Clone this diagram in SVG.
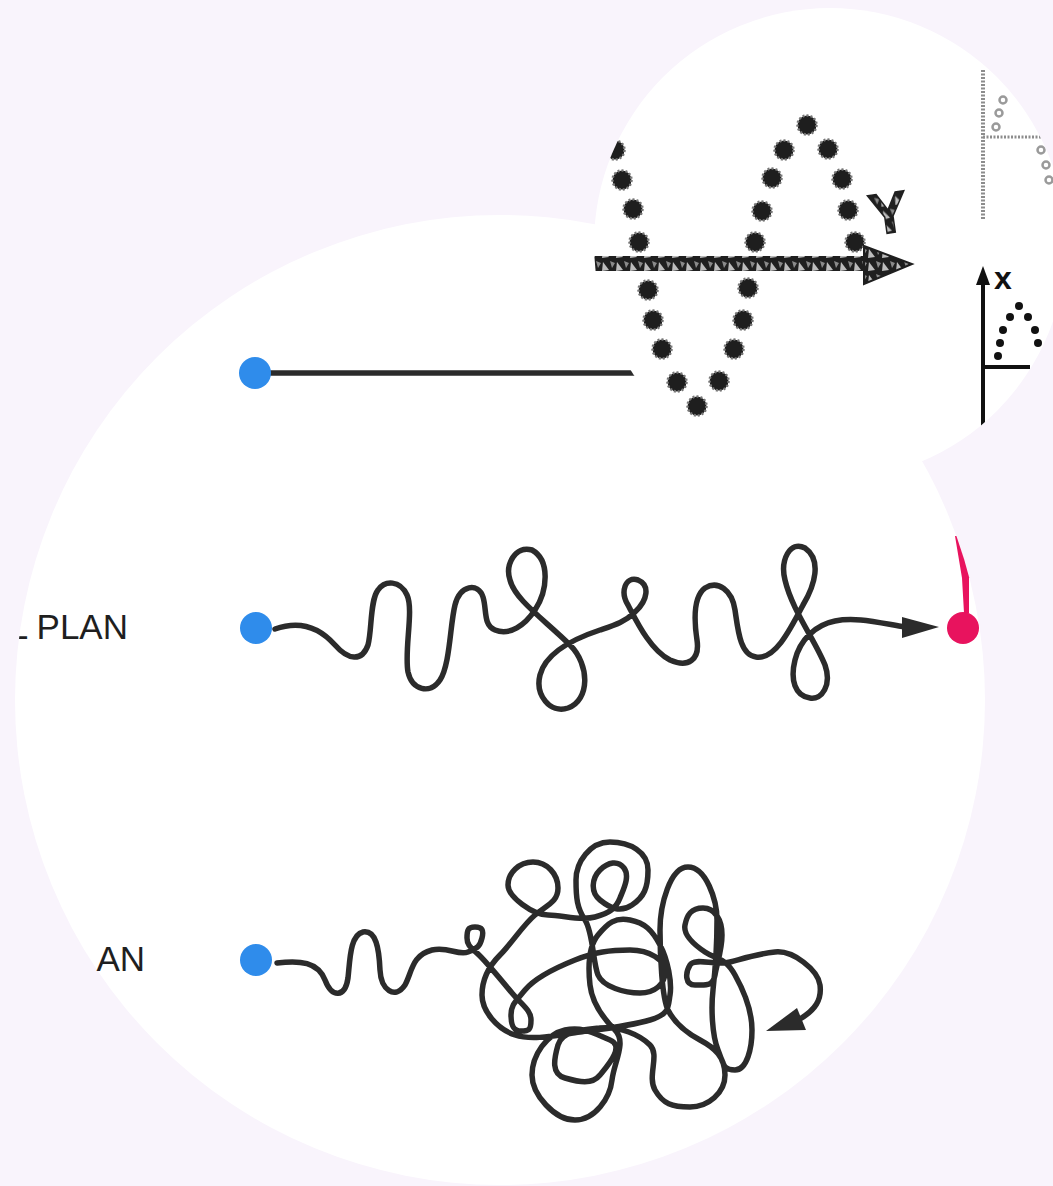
<svg xmlns="http://www.w3.org/2000/svg" width="1053" height="1186" viewBox="0 0 1053 1186">
<style>
.lbl{font-family:"Liberation Sans",Arial,sans-serif;font-size:35px;fill:#1f1f1f}
.wire{fill:none;stroke:#2b2b2b;stroke-width:5.5;stroke-linecap:round;stroke-linejoin:round}
.start{fill:#2f8ceb}
.end{fill:#e8135e}
.head{fill:#2b2b2b}
.sdot{fill:#1e1e1e;stroke:#777;stroke-width:2.5;stroke-dasharray:2 2}
.gdot{fill:#fff;stroke:#9a9a9a;stroke-width:2.5}
.kdot{fill:#111}
</style>
<defs>
<clipPath id="big"><circle cx="500" cy="700" r="485"/></clipPath>
<clipPath id="small"><circle cx="830" cy="244" r="236"/></clipPath>
<pattern id="tex" width="14" height="13" patternUnits="userSpaceOnUse"><rect width="14" height="13" fill="#1f1f1f"/><polygon points="1,2 7,10 0,11" fill="#fff" opacity=".7"/><polygon points="8,1 13,3 10,8" fill="#8a8a8a"/></pattern>
</defs>
<rect width="1053" height="1186" fill="#f9f4fc"/>
<circle cx="500" cy="700" r="485" fill="#fff"/>

<g id="connectors">
<line class="wire" x1="271" y1="373" x2="700" y2="373"/>
<path class="wire" d="M275 629 C300 620,320 628,335 645 C348 660,362 662,368 645 C372 630,370 600,378 590 C385 580,400 580,407 595 C414 610,404 650,408 672 C412 690,430 695,440 680 C450 665,450 625,455 605 C460 585,478 582,483 597 C487 610,483 625,495 630 C510 636,525 625,535 610 C548 590,550 560,532 550 C515 545,505 565,510 580 C515 600,545 620,570 645 C590 665,590 700,568 708 C550 714,535 695,540 675 C545 655,570 640,600 630 C615 625,625 622,635 612 C648 600,650 585,638 580 C625 576,620 592,628 605 C636 620,650 650,670 660 C688 668,700 660,697 640 C694 620,693 597,705 588 C718 580,732 590,735 610 C738 630,740 655,756 657 C775 660,790 630,803 605 C815 585,822 560,805 548 C790 540,780 560,785 580 C792 610,815 640,825 665 C832 685,822 700,810 698 C795 696,790 680,795 660 C800 640,815 625,835 621 C855 617,875 622,905 627"/>
<polygon class="head" points="902,617 939,627 902,638"/>
<path class="wire" d="M277 963 C300 960,318 962,325 980 C332 998,345 998,348 978 C350 960,350 935,363 932 C376 930,379 948,380 970 C381 990,395 1000,405 985 C412 972,412 955,432 950 C448 946,458 956,468 952 S480 946,482 938 S482 927,475 927 S467 930,467 938 S472 948,480 956 S502 981,512 993 S531 1010,531 1020 S529 1031,521 1031 S511 1025,511 1015 S515 1002,525 990 S555 968,575 960 S610 950,630 950 S665 960,665 972 S655 993,640 993 S603 987,598 975 S593 932,585 920 S576 898,576 880 S590 842,610 842 S648 852,648 870 S644 897,632 905 S610 908,600 900 S592 878,600 870 S618 860,624 868 S624 888,620 898 S610 913,595 917 S563 915,548 915 S508 897,508 885 S519 862,533 862 S558 874,558 888 S547 905,535 915 S512 943,500 955 S482 979,482 995 S497 1029,515 1035 S558 1035,580 1032 S630 1026,650 1020 S668 1007,670 995 S668 960,660 945 S645 923,630 920 S608 923,598 935 S588 967,590 985 S603 1018,615 1030 S614 1062,612 1080 S595 1120,575 1120 S532 1095,532 1075 S547 1034,565 1030 S595 1034,610 1040 S608 1065,600 1075 S579 1082,565 1078 S554 1059,558 1045 S580 1030,600 1028 S640 1035,650 1045 S647 1076,655 1090 S672 1107,690 1107 S725 1093,725 1075 S715 1048,700 1040 S674 1022,668 1010 S660 955,660 930 S670 867,688 867 S717 900,717 920 S715 972,713 990 S712 1035,718 1050 S723 1070,735 1070 S752 1048,752 1030 S745 993,735 975 S717 960,705 952 S683 935,685 925 S691 908,703 908 S722 920,722 935 S717 963,715 975 S705 985,695 985 S685 973,690 965 S715 966,730 962 S757 954,775 952 S818 970,820 985 S815 1010,800 1019"/>
<polygon class="head" points="766,1031 797,1008 806,1030"/>
</g>

<g id="row1-start"><circle class="start" cx="255" cy="373" r="16"/></g>

<g id="row2-label" clip-path="url(#big)"><text class="lbl" x="128" y="639" text-anchor="end">L PLAN</text></g>
<g id="row2-start"><circle class="start" cx="256" cy="628" r="16"/></g>
<g id="row2-goal">
<polygon class="end" clip-path="url(#big)" points="955,536 1000,536 1000,578 969,578 969,613 964,613 962,578"/>
<circle class="end" cx="963" cy="628" r="16"/>
</g>

<g id="row3-label"><text class="lbl" x="145" y="971" text-anchor="end">AN</text></g>
<g id="row3-start"><circle class="start" cx="256" cy="960" r="16"/></g>

<g id="inset">
<circle cx="830" cy="244" r="236" fill="#fff"/>
<g clip-path="url(#small)">
<g id="sine">
<circle class="sdot" cx="615" cy="150" r="9.5"/>
<circle class="sdot" cx="622" cy="180" r="9.5"/>
<circle class="sdot" cx="633" cy="209" r="9.5"/>
<circle class="sdot" cx="639" cy="242" r="9.5"/>
<circle class="sdot" cx="648" cy="290" r="9.5"/>
<circle class="sdot" cx="653" cy="320" r="9.5"/>
<circle class="sdot" cx="662" cy="349" r="9.5"/>
<circle class="sdot" cx="677" cy="382" r="9.5"/>
<circle class="sdot" cx="697" cy="406" r="9.5"/>
<circle class="sdot" cx="719" cy="381" r="9.5"/>
<circle class="sdot" cx="734" cy="349" r="9.5"/>
<circle class="sdot" cx="743" cy="320" r="9.5"/>
<circle class="sdot" cx="748" cy="288" r="9.5"/>
<circle class="sdot" cx="755" cy="242" r="9.5"/>
<circle class="sdot" cx="762" cy="211" r="9.5"/>
<circle class="sdot" cx="772" cy="178" r="9.5"/>
<circle class="sdot" cx="784" cy="150" r="9.5"/>
<circle class="sdot" cx="807" cy="125" r="9.5"/>
<circle class="sdot" cx="828" cy="149" r="9.5"/>
<circle class="sdot" cx="842" cy="179" r="9.5"/>
<circle class="sdot" cx="848" cy="210" r="9.5"/>
<circle class="sdot" cx="855" cy="242" r="9.5"/>
</g>
<rect x="585" y="256" width="288" height="15" fill="url(#tex)"/>
<polygon points="864,246 912,264 864,284" fill="url(#tex)" stroke="#1f1f1f" stroke-width="2"/>
<text x="888" y="233" text-anchor="middle" font-family="Liberation Sans, Arial, sans-serif" font-weight="bold" font-size="58" fill="url(#tex)" stroke="#1f1f1f" stroke-width="1.5" transform="rotate(-8 888 210)">Y</text>
<g id="chart-top">
<line x1="983" y1="70" x2="983" y2="220" stroke="#8c8c8c" stroke-width="4" stroke-dasharray="2 1.5"/>
<line x1="983" y1="137" x2="1050" y2="137" stroke="#8c8c8c" stroke-width="3" stroke-dasharray="2 1.5"/>
<circle class="gdot" cx="1003" cy="100" r="3.5"/>
<circle class="gdot" cx="999" cy="113" r="3.5"/>
<circle class="gdot" cx="996" cy="127" r="3.5"/>
<circle class="gdot" cx="1041" cy="150" r="3.5"/>
<circle class="gdot" cx="1046" cy="165" r="3.5"/>
<circle class="gdot" cx="1049" cy="180" r="3.5"/>
</g>
<g id="chart-bottom">
<line x1="983" y1="282" x2="983" y2="430" stroke="#111" stroke-width="4"/>
<polygon points="976,285 983,266 990,285" fill="#111"/>
<line x1="983" y1="367" x2="1030" y2="367" stroke="#111" stroke-width="4"/>
<text x="1003" y="289" text-anchor="middle" font-family="Liberation Sans, Arial, sans-serif" font-weight="bold" font-size="32" fill="#111">x</text>
<circle class="kdot" cx="998" cy="356" r="4"/>
<circle class="kdot" cx="1000" cy="343" r="4"/>
<circle class="kdot" cx="1003" cy="330" r="4"/>
<circle class="kdot" cx="1010" cy="317" r="4"/>
<circle class="kdot" cx="1019" cy="306" r="4"/>
<circle class="kdot" cx="1028" cy="317" r="4"/>
<circle class="kdot" cx="1035" cy="330" r="4"/>
<circle class="kdot" cx="1038" cy="343" r="4"/>
</g>
</g>
</g>
</svg>
